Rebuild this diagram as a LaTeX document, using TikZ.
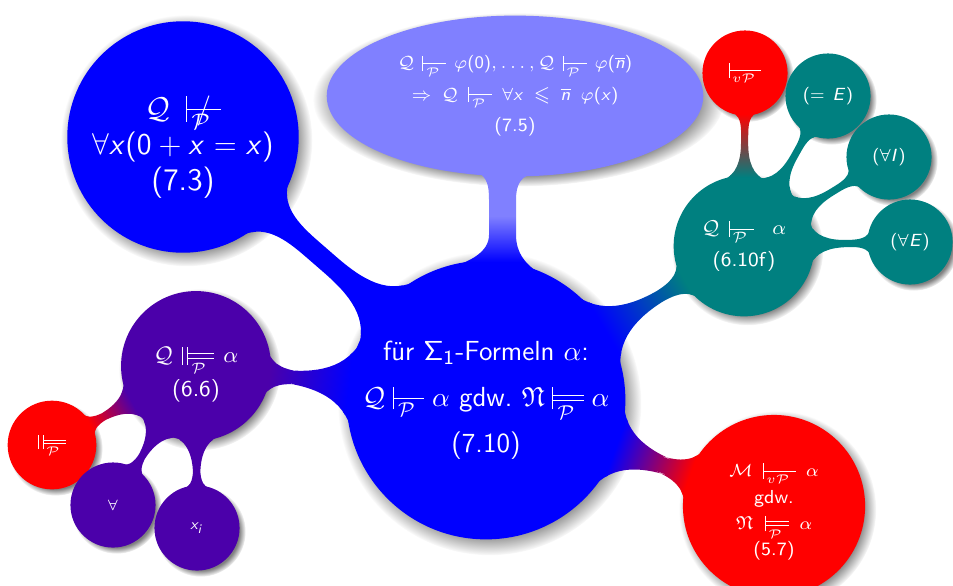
\documentclass[tikz,border=0pt]{standalone}
\usepackage{amsmath,amssymb}
\usetikzlibrary{mindmap,shadows,shapes.geometric,calc}
% sans serif digits and latin letters in formulas
\DeclareSymbolFont{operators}{OT1}{cmss}{m}{n}
\DeclareSymbolFont{sfletters}{OT1}{cmss}{m}{sl}
\DeclareMathSymbol{x}{\mathalpha}{sfletters}{`x}
\DeclareMathSymbol{n}{\mathalpha}{sfletters}{`n}
\DeclareMathSymbol{i}{\mathalpha}{sfletters}{`i}
\DeclareMathSymbol{E}{\mathalpha}{sfletters}{`E}
\DeclareMathSymbol{I}{\mathalpha}{sfletters}{`I}
\definecolor{vio}{RGB}{75,0,170}
\pgfdeclareverticalshading{barfade}{100bp}{color(0bp)=(blue); color(37bp)=(blue);
  color(54bp)=(blue!50); color(100bp)=(blue!50)}
% turnstiles with long bar and index below it
\newsavebox\subbox
\newlength\barwd
\newcommand{\vb}{\rule[-0.25ex]{0.4pt}{1.85ex}}
\newcommand{\hb}[1]{\rule[#1]{\barwd}{0.4pt}}
\newcommand{\setsub}[1]{\sbox\subbox{$\scriptstyle #1$}%
  \setlength\barwd{\wd\subbox}\addtolength\barwd{0.5em}}
\newcommand{\putsub}[1]{\hskip0.15em\raisebox{#1}{\usebox\subbox}\hskip0.35em}
\newcommand{\prv}[1]{\setsub{#1}\mathrel{\vb\rlap{\hb{0.6ex}}\putsub{-0.85ex}}}
\newcommand{\nprv}[1]{\setsub{#1}\mathrel{\vb\rlap{\hb{0.6ex}}\rlap{\hskip0.3em$/$}\putsub{-0.85ex}}}
\newcommand{\mdl}[1]{\setsub{#1}\mathrel{\vb\rlap{\hb{0.85ex}}\rlap{\hb{0.4ex}}\putsub{-1.05ex}}}
\newcommand{\dmdl}[1]{\setsub{#1}\mathrel{\vb\hskip1.4pt\vb\rlap{\hb{0.85ex}}\rlap{\hb{0.4ex}}\putsub{-1.05ex}}}
\tikzset{
  cpt/.style={concept, concept color=#1, text=white, circular drop shadow,
    align=center, inner sep=0pt},
  leaf/.style={cpt=#1, minimum size=1.15cm, text width=1.1cm,
    font=\sffamily\fontsize{7}{9}\selectfont},
}
\begin{document}
\begin{tikzpicture}[x=0.014cm,y=-0.014cm,mindmap]
\useasboundingbox (0,0) rectangle (953,585);
% main concept
\node[cpt=blue, minimum size=3.7cm, text width=3.5cm,
  font=\sffamily\fontsize{11}{14}\selectfont] (main) at (486,400)
  {für $\Sigma_1$-Formeln $\alpha$:\\[0.9ex]
   $\mathcal Q\prv{\mathcal P}\alpha$ gdw.\ $\mathfrak N\mdl{\mathcal P}\alpha$\\[0.9ex]
   (7.10)};
% first ring
\node[cpt=blue, minimum size=2.8cm, text width=2.7cm,
  font=\sffamily\fontsize{12.5}{14.5}\selectfont] (n73) at (183,137)
  {\rule{0pt}{17pt}$\mathcal Q\nprv{\mathcal P}$\\ $\forall x(0+x=x)$\\ (7.3)};
\node[cpt=blue!50, ellipse, minimum width=4.48cm, minimum height=2.21cm,
  text width=3.7cm, font=\sffamily\fontsize{7.5}{12.5}\selectfont] (n75) at (515,96)
  {$\mathcal Q\prv{\mathcal P}\varphi(0),\dots,\mathcal Q\prv{\mathcal P}\varphi(\overline n)$\\
   $\Rightarrow\mathcal Q\prv{\mathcal P}\forall x\leqslant\overline n\;\varphi(x)$\\ (7.5)};
\node[cpt=teal, minimum size=1.85cm, text width=1.8cm,
  font=\sffamily\fontsize{8}{12.5}\selectfont] (n610) at (744,246)
  {$\mathcal Q\prv{\mathcal P}\;\alpha$\\ (6.10f)};
\node[cpt=red, minimum size=2.18cm, text width=2cm,
  font=\sffamily\fontsize{7.5}{10.5}\selectfont] (n57) at (774,506)
  {\rule{0pt}{10pt}$\mathcal M\prv{v\mathcal P}\alpha$\\ gdw.\\ $\mathfrak N\mdl{\mathcal P}\alpha$\\ (5.7)};
\node[cpt=vio, minimum size=1.85cm, text width=1.8cm,
  font=\sffamily\fontsize{9}{13.5}\selectfont] (n66) at (196,366)
  {\rule{0pt}{13pt}$\mathcal Q\dmdl{\mathcal P}\alpha$\\ (6.6)};
% second ring
\node[leaf=red] (vp) at (745,73) {$\prv{v\mathcal P}$};
\node[leaf=teal] (eqe) at (828,96) {$(=E)$};
\node[leaf=teal] (alli) at (889,157) {$(\forall I)$};
\node[leaf=teal] (alle) at (910,242) {$(\forall E)$};
\node[leaf=red, minimum size=1.2cm] (mp) at (52,445) {$\dmdl{\mathcal P}$};
\node[leaf=vio, font=\sffamily\fontsize{6}{8}\selectfont] (all) at (113,505) {$\forall$};
\node[leaf=vio, font=\sffamily\fontsize{6}{8}\selectfont] (xi) at (197,528) {$x_i$};
% connections
\path (main) to[circle connection bar switch color=from (blue) to (blue)] (n73);
\path (main) to[circle connection bar switch color=from (blue) to (teal)] (n610);
\path (main) to[circle connection bar switch color=from (blue) to (red)] (n57);
\path (main) to[circle connection bar switch color=from (blue) to (vio)] (n66);
\path (n610) to[circle connection bar switch color=from (teal) to (red)] (vp);
\foreach \c in {eqe,alli,alle}
  \path (n610) to[circle connection bar switch color=from (teal) to (teal)] (\c);
\path (n66) to[circle connection bar switch color=from (vio) to (red)] (mp);
\foreach \c in {all,xi}
  \path (n66) to[circle connection bar switch color=from (vio) to (vio)] (\c);
% bar up to the ellipse, drawn by hand
\coordinate (bt) at (n75.south);
\coordinate (bb) at (main.north);
\shade[shading=barfade]
  ($(bt)+(-45,-15)$) -- ($(bt)+(-37,-2.5)$)
  .. controls ($(bt)+(-28,3)$) and ($(bt)+(-26,10)$) .. ($(bt)+(-26,25)$)
  -- ($(bt)+(-26,60)$)
  .. controls ($(bb)+(3,-10)$) and ($(bb)+(-16,0)$) .. ($(bb)+(-41,7)$)
  -- ($(bb)+(-41,32)$) -- ($(bb)+(59,32)$) -- ($(bb)+(59,14)$)
  .. controls ($(bb)+(39,4)$) and ($(bb)+(30,-10)$) .. ($(bt)+(1,60)$)
  -- ($(bt)+(1,25)$)
  .. controls ($(bt)+(1,11)$) and ($(bt)+(5,3)$) .. ($(bt)+(15,-0.5)$)
  -- ($(bt)+(15,-15)$) -- cycle;
\end{tikzpicture}
\end{document}
